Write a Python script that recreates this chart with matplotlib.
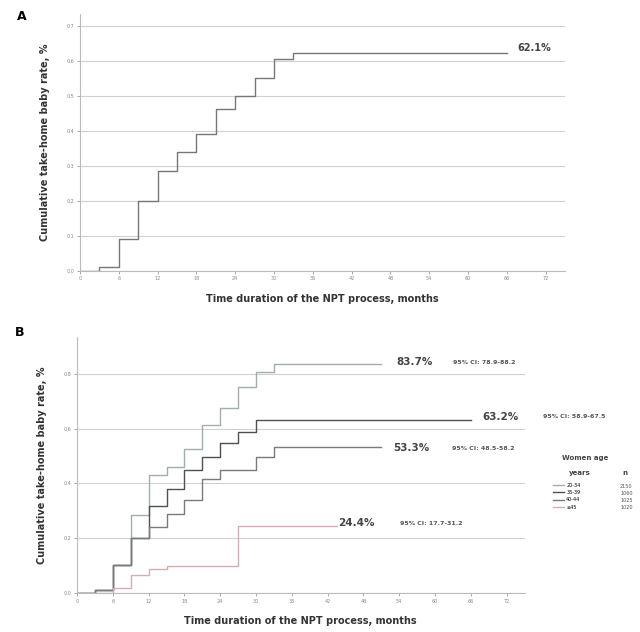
import matplotlib
matplotlib.use("Agg")
import matplotlib.pyplot as plt

# panel A: all women
months_a = [0, 3, 6, 9, 12, 15, 18, 21, 24, 27, 30, 33, 66]
rate_a = [0.0, 0.01, 0.09, 0.20, 0.286, 0.34, 0.392, 0.462, 0.50, 0.55, 0.605, 0.621, 0.621]

# panel B: by women age
age_groups = ["20-34", "35-39", "40-44", "\u226545"]
group_n = ["2150", "1060", "1025", "1020"]
months_b = [
    [0, 3, 6, 9, 12, 15, 18, 21, 24, 27, 30, 33, 51],
    [0, 3, 6, 9, 12, 15, 18, 21, 24, 27, 30, 66],
    [0, 3, 6, 9, 12, 15, 18, 21, 24, 30, 33, 51],
    [0, 6, 9, 12, 15, 27, 43.5],
]
rate_b = [
    [0.0, 0.012, 0.101, 0.286, 0.432, 0.46, 0.526, 0.614, 0.675, 0.751, 0.805, 0.837, 0.837],
    [0.0, 0.012, 0.101, 0.20, 0.319, 0.379, 0.447, 0.498, 0.547, 0.586, 0.632, 0.632],
    [0.0, 0.012, 0.101, 0.20, 0.242, 0.29, 0.34, 0.416, 0.45, 0.498, 0.533, 0.533],
    [0.0, 0.018, 0.067, 0.087, 0.10, 0.244, 0.244],
]
final_pct = ["83.7%", "63.2%", "53.3%", "24.4%"]
ci_text = ["95% CI: 78.9-88.2", "95% CI: 58.9-67.5", "95% CI: 48.5-58.2", "95% CI: 17.7-31.2"]
colors_b = ["#9fb0a4", "#505050", "#7a7a7a", "#d7aeb0"]
# label positions (month, rate) for the end labels
pct_pos = [(53.6, 0.844), (67.9, 0.643), (53.0, 0.530), (43.8, 0.256)]
ci_pos = [(63.0, 0.840), (78.1, 0.643), (62.8, 0.528), (54.1, 0.252)]

xticks = list(range(0, 73, 6))
xlabel = "Time duration of the NPT process, months"
ylabel = "Cumulative take-home baby rate, %"

fig = plt.figure(figsize=(6.4, 6.32), dpi=100)
ax_a = fig.add_axes([80 / 640, 1 - 270.7 / 632, 485 / 640, 257.2 / 632])
ax_b = fig.add_axes([77 / 640, 1 - 593 / 632, 447.5 / 640, 256 / 632])


def style(ax, yticks, ymax):
    ax.set_xlim(0, 75)
    ax.set_ylim(0, ymax)
    ax.set_xticks(xticks)
    ax.set_yticks(yticks)
    ax.set_yticklabels([f"{v:.1f}" for v in yticks])
    ax.tick_params(labelsize=3.5, colors="#888888", length=2, width=0.5, pad=2)
    for s in ["top", "right"]:
        ax.spines[s].set_visible(False)
    for s in ["left", "bottom"]:
        ax.spines[s].set_color("#bbbbbb")
        ax.spines[s].set_linewidth(0.8)
    ax.yaxis.grid(True, color="#d0d0d0", linewidth=0.8)
    ax.set_axisbelow(True)
    ax.set_xlabel(xlabel, fontsize=7, fontweight="bold", color="#333333", labelpad=9)
    ax.set_ylabel(ylabel, fontsize=7, fontweight="bold", color="#333333", labelpad=12)


style(ax_a, [0.0, 0.1, 0.2, 0.3, 0.4, 0.5, 0.6, 0.7], 0.735)
ax_a.step(months_a, rate_a, where="post", color="#777777", linewidth=1.0)
ax_a.text(67.6, 0.636, "62.1%", fontsize=7, fontweight="bold", color="#444444", va="center")

style(ax_b, [0.0, 0.2, 0.4, 0.6, 0.8], 0.934)
handles = []
for i in range(4):
    (ln,) = ax_b.step(months_b[i], rate_b[i], where="post", color=colors_b[i], linewidth=1.0)
    handles.append(ln)
    ax_b.text(*pct_pos[i], final_pct[i], fontsize=7.5, fontweight="bold", color="#444444",
              va="center", clip_on=False)
    ax_b.text(*ci_pos[i], ci_text[i], fontsize=4.5, fontweight="bold", color="#555555",
              va="center", clip_on=False)

fig.text(17 / 640, 1 - 17 / 632, "A", fontsize=9, fontweight="bold", va="center")
fig.text(15 / 640, 1 - 333 / 632, "B", fontsize=9, fontweight="bold", va="center")

# legend
fig.text(585 / 640, 1 - 458 / 632, "Women age", fontsize=5, fontweight="bold", color="#444444",
         ha="center", va="center")
fig.text(580 / 640, 1 - 473 / 632, "years", fontsize=5, fontweight="bold", color="#444444",
         ha="center", va="center")
fig.text(622 / 640, 1 - 473 / 632, "n", fontsize=5, fontweight="bold", color="#444444",
         ha="left", va="center")
fig.legend(handles, age_groups, loc="upper left", bbox_to_anchor=(553 / 640, 1 - 483 / 632),
           fontsize=3.5, frameon=False, handlelength=2.2, labelspacing=0.45, borderpad=0,
           handletextpad=0.5, borderaxespad=0)
for i, n in enumerate(group_n):
    fig.text(620 / 640, 1 - (487 + 6.7 * i) / 632, n, fontsize=3.5, color="#555555", va="center")

fig.savefig("out.png", dpi=100)
